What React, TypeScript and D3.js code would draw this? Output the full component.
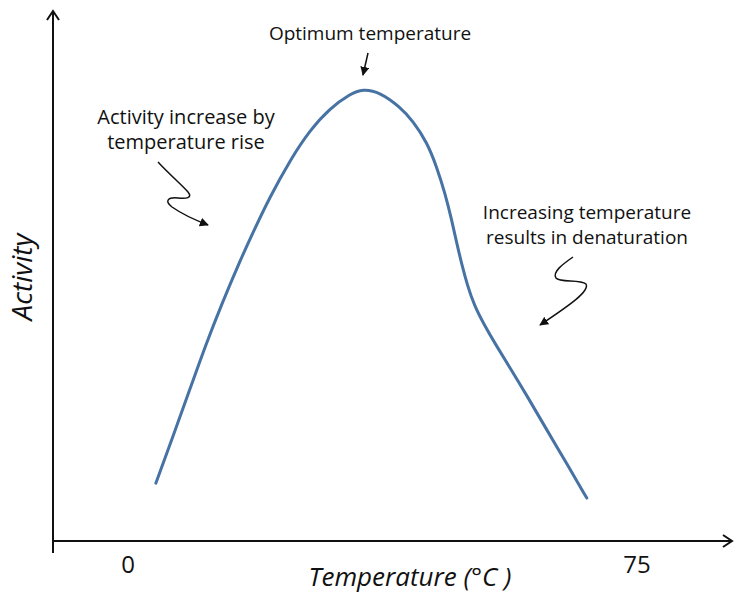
import { useEffect, useRef } from 'react';
import * as d3 from 'd3';

// temperature (°C) vs. relative activity
const temps = [4.1, 6.6, 9.1, 11.6, 13.9, 16.1, 18.3, 20.9, 23.9, 26.8, 29.8, 32.7, 34.6, 37.1, 40.1, 42.0, 44.1, 45.5, 46.7, 47.7, 48.5, 49.2, 50.0, 51.0, 52.5, 54.2, 56.3, 58.8, 61.7, 64.7, 67.6];
const activity = [12.8, 23.0, 33.5, 44.0, 52.7, 60.6, 67.9, 76.1, 84.3, 90.9, 95.8, 98.9, 100, 99.3, 96.0, 92.9, 88.1, 82.7, 77.0, 71.0, 65.5, 61.1, 56.6, 52.2, 47.8, 43.4, 38.3, 32.1, 24.6, 17.0, 9.5];
const tickValues = [0, 75];

const WIDTH = 736;
const HEIGHT = 594;
const FONT = "'Open Sans', 'Noto Sans', sans-serif";
const CURVE_COLOR = '#4672a4';

export default function App() {
  const svgRef = useRef<SVGSVGElement>(null);

  useEffect(() => {
    if (!svgRef.current) return;
    document.body.style.margin = '0';

    const root = d3.select(svgRef.current);
    root.selectAll('*').remove();

    const x = d3.scaleLinear().domain([0, 75]).range([128, 637]);
    const y = d3.scaleLinear().domain([0, 100]).range([541, 89]);

    // arrow markers
    const defs = root.append('defs');
    defs
      .append('marker')
      .attr('id', 'head')
      .attr('viewBox', '0 0 10 10')
      .attr('refX', 9)
      .attr('refY', 5)
      .attr('markerWidth', 9)
      .attr('markerHeight', 9)
      .attr('markerUnits', 'userSpaceOnUse')
      .attr('orient', 'auto')
      .append('path')
      .attr('d', 'M0,0 L10,5 L0,10 Z')
      .attr('fill', '#111');

    // axes
    const axisY = x.invert(53);
    const axisX = 0;
    const ax = root.append('g').attr('stroke', '#111').attr('stroke-width', 2).attr('fill', 'none');
    ax.append('line')
      .attr('x1', x(axisY)).attr('x2', x(axisY))
      .attr('y1', 553).attr('y2', 11);
    ax.append('path')
      .attr('d', `M${x(axisY) - 6},${20} L${x(axisY)},${11} L${x(axisY) + 6},${20}`);
    ax.append('line')
      .attr('x1', x(axisY)).attr('x2', 732)
      .attr('y1', y(axisX)).attr('y2', y(axisX));
    ax.append('path')
      .attr('d', `M${723},${y(axisX) - 6} L${732},${y(axisX)} L${723},${y(axisX) + 6}`);

    // tick labels
    root
      .append('g')
      .selectAll('text')
      .data(tickValues)
      .enter()
      .append('text')
      .attr('x', (d) => x(d))
      .attr('y', 573)
      .attr('text-anchor', 'middle')
      .attr('font-family', FONT)
      .attr('font-size', 24)
      .attr('fill', '#111')
      .text((d) => d);

    // axis titles
    root
      .append('text')
      .attr('x', 410)
      .attr('y', 586)
      .attr('text-anchor', 'middle')
      .attr('font-family', FONT)
      .attr('font-style', 'italic')
      .attr('font-size', 26)
      .attr('fill', '#111')
      .text('Temperature (°C )');

    root
      .append('text')
      .attr('transform', 'translate(32,277) rotate(-90)')
      .attr('text-anchor', 'middle')
      .attr('font-family', FONT)
      .attr('font-style', 'italic')
      .attr('font-size', 28)
      .attr('fill', '#111')
      .text('Activity');

    // the curve (B-spline smooths the hand-read points)
    const line = d3
      .line<number>()
      .x((_, i) => x(temps[i]))
      .y((d) => y(d))
      .curve(d3.curveBasis);

    root
      .append('path')
      .datum(activity)
      .attr('d', line)
      .attr('fill', 'none')
      .attr('stroke', CURVE_COLOR)
      .attr('stroke-width', 3)
      .attr('stroke-linecap', 'round');

    // annotations
    const notes = [
      { lines: ['Optimum temperature'], x: 370, y: 40, size: 19 },
      { lines: ['Activity increase by', 'temperature rise'], x: 186, y: 124, size: 20 },
      { lines: ['Increasing temperature', 'results in denaturation'], x: 587, y: 219, size: 19 },
    ];
    notes.forEach((n) => {
      n.lines.forEach((l, i) => {
        root
          .append('text')
          .attr('x', n.x)
          .attr('y', n.y + i * 25)
          .attr('text-anchor', 'middle')
          .attr('font-family', FONT)
          .attr('font-size', n.size)
          .attr('fill', '#111')
          .text(l);
      });
    });

    const arrows = [
      'M368,53 L363,75',
      'M158,162 C170,175 182,185 188,192 C193,198 186,199 178,198 C168,197 164,201 172,207 C182,214 195,220 208,225',
      'M573,257 C563,264 552,272 556,278 C560,283 580,279 586,284 C590,291 570,305 540,325',
    ];
    root
      .append('g')
      .selectAll('path')
      .data(arrows)
      .enter()
      .append('path')
      .attr('d', (d) => d)
      .attr('fill', 'none')
      .attr('stroke', '#111')
      .attr('stroke-width', 1.5)
      .attr('marker-end', 'url(#head)');
  }, []);

  return <svg ref={svgRef} width={WIDTH} height={HEIGHT} style={{ display: 'block', background: '#fff' }} />;
}
